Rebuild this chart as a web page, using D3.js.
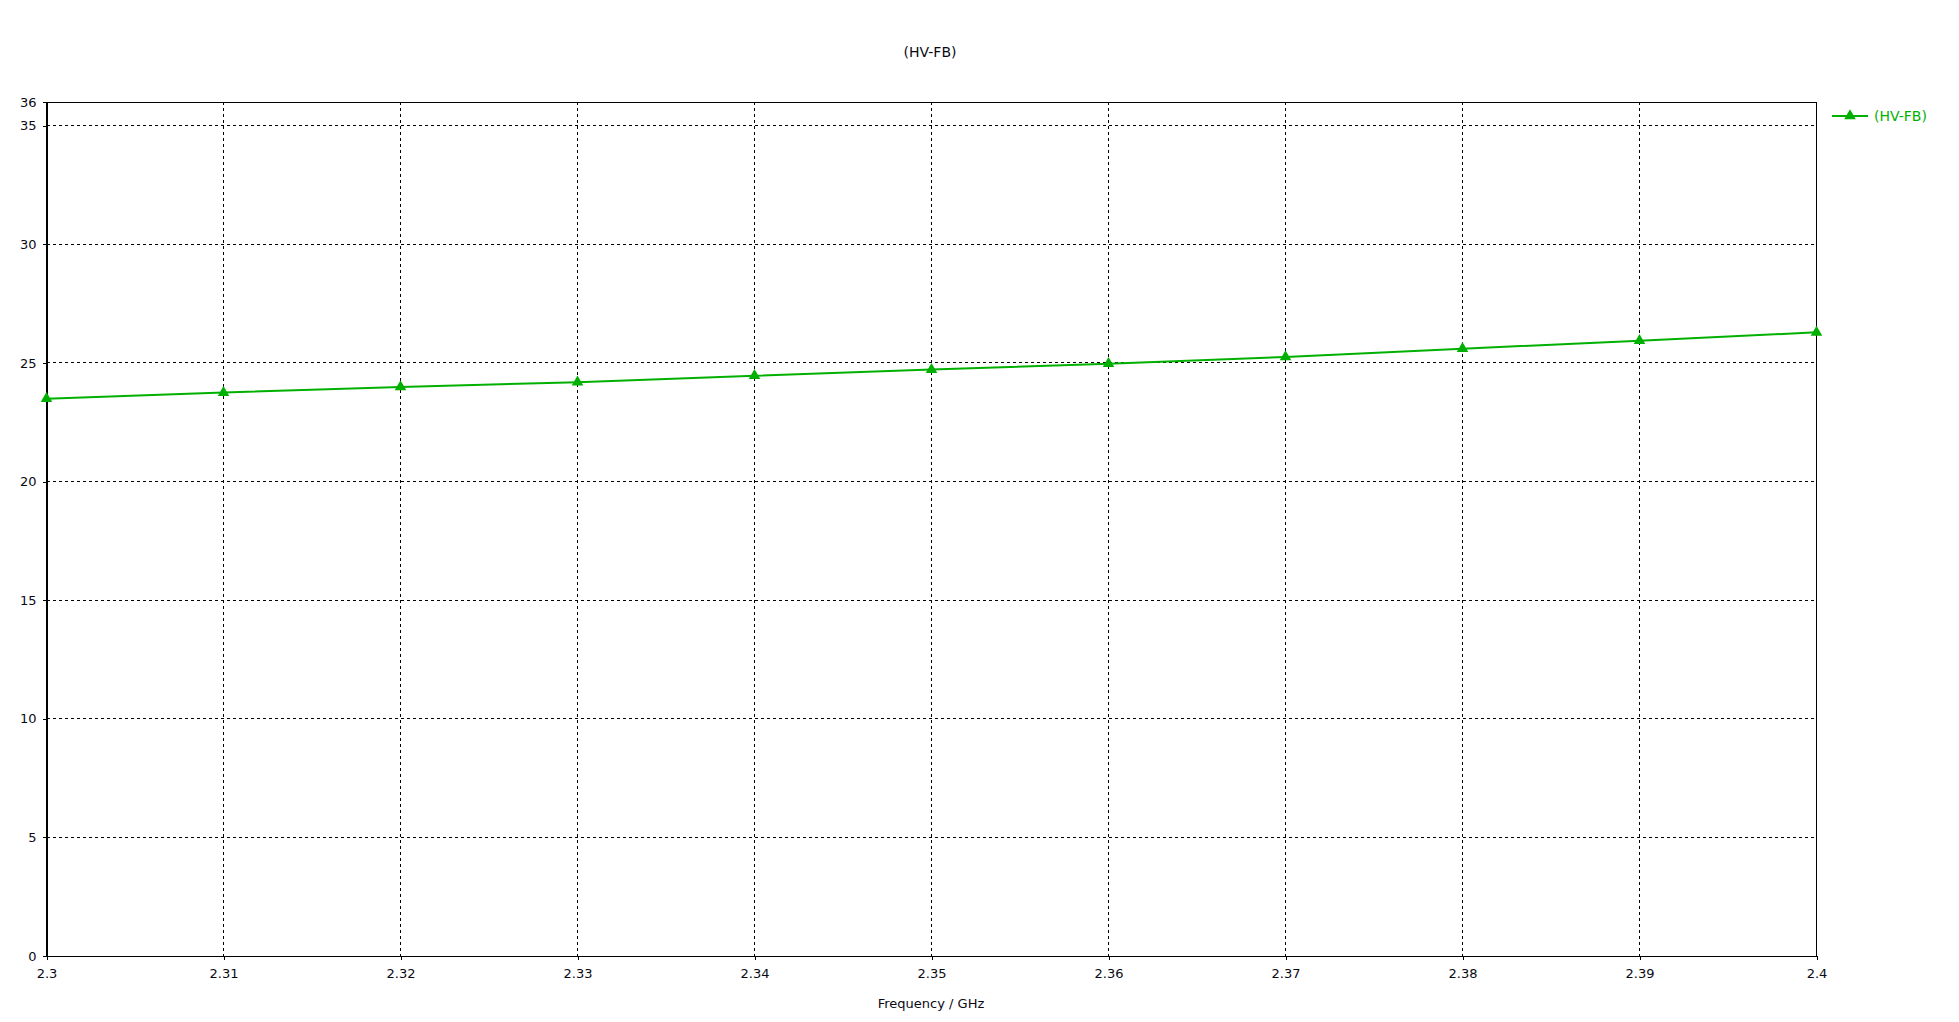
<!DOCTYPE html>
<html>
<head>
<meta charset="utf-8">
<script src="https://cdn.jsdelivr.net/npm/d3@7"></script>
<style>
  body { margin: 0; background: #fff; }
  text { font-family: "DejaVu Sans", sans-serif; font-size: 13px; fill: #0a0a14; }
  .grid line { stroke: #000; stroke-width: 1; stroke-dasharray: 3,3; shape-rendering: crispEdges; }
  .axis path, .axis line { stroke: #000; shape-rendering: crispEdges; }
</style>
</head>
<body>
<div class="chart"></div>
<script>
// data
const seriesName = "(HV-FB)";
const freq = [2.30, 2.31, 2.32, 2.33, 2.34, 2.35, 2.36, 2.37, 2.38, 2.39, 2.40];
const values = [23.49, 23.75, 23.99, 24.19, 24.46, 24.72, 24.97, 25.25, 25.60, 25.94, 26.29];
const xTicks = [2.3, 2.31, 2.32, 2.33, 2.34, 2.35, 2.36, 2.37, 2.38, 2.39, 2.4];
const yTicks = [0, 5, 10, 15, 20, 25, 30, 35, 36];
const yGrid = [5, 10, 15, 20, 25, 30, 35];

var W = 1959, H = 1022;
var margin = { top: 102, right: 143, bottom: 66, left: 46 },
    width = W - margin.left - margin.right,
    height = H - margin.top - margin.bottom;
var green = "#00b000";

var x = d3.scaleLinear().domain([2.3, 2.4]).range([0, width]);
var y = d3.scaleLinear().domain([0, 36]).range([height, 0]);

var root = d3.select(".chart").append("svg")
    .attr("width", W)
    .attr("height", H);

var svg = root.append("g")
    .attr("transform", "translate(" + (margin.left + 0.5) + "," + margin.top + ")");

// grid
svg.append("g").attr("class", "grid")
    .selectAll("line.v").data(xTicks.slice(1, -1)).enter()
    .append("line")
    .attr("x1", d => x(d)).attr("x2", d => x(d))
    .attr("y1", 0).attr("y2", height);

svg.append("g").attr("class", "grid")
    .selectAll("line.h").data(yGrid).enter()
    .append("line")
    .attr("x1", 0).attr("x2", width)
    .attr("y1", d => y(d)).attr("y2", d => y(d));

// axes
svg.append("g")
    .attr("class", "x axis")
    .attr("transform", "translate(0," + height + ")")
    .call(d3.axisBottom(x).tickValues(xTicks).tickSize(4).tickSizeOuter(0).tickPadding(9)
        .tickFormat(d => String(+d.toFixed(2))));

svg.append("g")
    .attr("class", "y axis")
    .call(d3.axisLeft(y).tickValues(yTicks).tickSize(4).tickSizeOuter(0).tickPadding(6)
        .tickFormat(d3.format("d")));

svg.selectAll(".axis text").style("font-size", "13px").attr("fill", "#0a0a14");

// frame
svg.append("rect")
    .attr("width", width).attr("height", height)
    .attr("fill", "none").attr("stroke", "#000")
    .attr("shape-rendering", "crispEdges");

// labels
root.append("text")
    .attr("x", 930).attr("y", 57)
    .attr("text-anchor", "middle")
    .style("font-size", "14px")
    .text(seriesName);

root.append("text")
    .attr("x", margin.left + width / 2).attr("y", 1008)
    .attr("text-anchor", "middle")
    .text("Frequency / GHz");

// series
var data = freq.map((f, i) => ({ x: f, y: values[i] }));

var line = d3.line()
    .x(d => x(d.x))
    .y(d => y(d.y));

svg.append("path")
    .datum(data)
    .attr("fill", "none")
    .attr("stroke", green)
    .attr("stroke-width", 2)
    .attr("d", line);

var tri = d3.symbol().type(d3.symbolTriangle).size(58);

svg.selectAll(".dot")
    .data(data)
    .enter()
    .append("path")
    .attr("class", "dot")
    .attr("d", tri)
    .attr("fill", green)
    .attr("transform", d => "translate(" + x(d.x) + "," + y(d.y) + ")");

// legend
var lg = root.append("g").attr("transform", "translate(1832,116)");
lg.append("line")
    .attr("x1", 0).attr("x2", 36)
    .attr("stroke", green).attr("stroke-width", 2);
lg.append("path")
    .attr("d", tri)
    .attr("fill", green)
    .attr("transform", "translate(18,0)");
lg.append("text")
    .attr("x", 42).attr("y", 5)
    .style("fill", green)
    .style("font-size", "14px")
    .text(seriesName);
</script>
</body>
</html>
